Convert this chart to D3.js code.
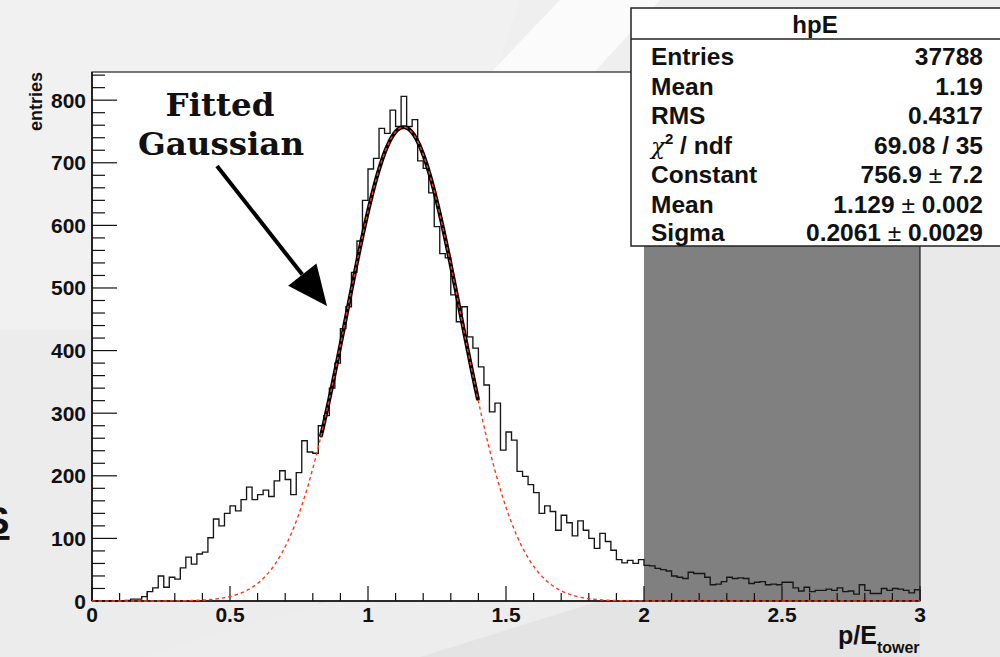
<!DOCTYPE html>
<html>
<head>
<meta charset="utf-8">
<script src="https://cdn.jsdelivr.net/npm/d3@7"></script>
<style>
  html, body { margin: 0; padding: 0; background: #e5e5e5; }
  svg { display: block; }
</style>
</head>
<body>
<svg id="chart" width="1000" height="657"></svg>
<script>
// ---- histogram hpE : p/E_tower, 150 bins of width 0.02 on [0, 3] ----
const histRange = [0, 3];
const binWidth = 0.02;
const counts = [
  0, 0, 0, 0, 0, 0, 1, 3, 3, 7,
  15, 21, 40, 22, 38, 35, 53, 70, 59, 75,
  78, 101, 131, 120, 140, 152, 144, 162, 182, 162,
  170, 177, 167, 192, 208, 194, 170, 205, 256, 238,
  236, 280, 296, 340, 380, 435, 470, 525, 575, 640,
  690, 707, 755, 747, 784, 758, 806, 758, 769, 703,
  691, 652, 598, 555, 548, 489, 446, 470, 422, 404,
  374, 345, 302, 316, 241, 270, 257, 207, 199, 186,
  173, 140, 152, 143, 113, 137, 125, 104, 128, 113,
  100, 84, 108, 95, 81, 66, 61, 65, 60, 66,
  57, 56, 52, 50, 48, 40, 38, 36, 46, 44,
  44, 38, 26, 27, 31, 38, 36, 37, 36, 28,
  30, 31, 26, 27, 26, 30, 30, 21, 16, 22,
  15, 17, 17, 19, 17, 21, 15, 16, 11, 26,
  17, 12, 12, 20, 17, 20, 19, 17, 13, 18
];

// Gaussian fit parameters and fit window
const fitConstant = 756.9;
const fitMean = 1.129;
const fitSigma = 0.2061;
const fitRange = [0.83, 1.40];

// shaded region of the x axis
const shadedRange = [2, 3];

// axis ticks
const xMajorTicks = [0, 0.5, 1, 1.5, 2, 2.5, 3];
const xTickLabels = ["0", "0.5", "1", "1.5", "2", "2.5", "3"];
const yMajorTicks = [0, 100, 200, 300, 400, 500, 600, 700, 800];
const yTickLabels = ["0", "100", "200", "300", "400", "500", "600", "700", "800"];
const yMax = 845;

// statistics box
const statTitle = "hpE";
const statNames = ["Entries", "Mean", "RMS", "chi2", "Constant", "Mean", "Sigma"];
const statValues = ["37788", "1.19", "0.4317", "69.08 / 35", ["756.9", "7.2"], ["1.129", "0.002"], ["0.2061", "0.0029"]];

// ---- layout ----
const svg = d3.select("#chart");
const W = 1000, H = 657;
const frame = { left: 92, right: 920, top: 72, bottom: 601 };
const SANS = "'Liberation Sans', Arial, Helvetica, sans-serif";

const x = d3.scaleLinear().domain(histRange).range([frame.left, frame.right]);
const y = d3.scaleLinear().domain([0, yMax]).range([frame.bottom, frame.top]);

// ---- slide background ----
const bg = svg.append("g");
bg.append("rect").attr("width", W).attr("height", H).attr("fill", "#e4e4e4");
bg.append("path").attr("fill", "#efefef")
  .attr("d", "M0,0 L1000,0 L1000,330 L0,330 Z");
bg.append("path").attr("fill", "#f3f3f3")
  .attr("d", "M0,0 L520,0 L300,657 L0,657 Z").attr("opacity", 0.55);
bg.append("path").attr("fill", "#fbfbfb")
  .attr("d", "M560,0 L660,0 L560,110 L455,110 Z");
bg.append("path").attr("fill", "#ededed")
  .attr("d", "M330,601 L600,601 L420,657 L140,657 Z");
bg.append("path").attr("fill", "#e9e9e9")
  .attr("d", "M920,246 L1000,246 L1000,657 L920,657 Z");

// ---- partial heading letter at the slide's left edge ----
svg.append("text")
  .attr("x", 9.5).attr("y", 534)
  .attr("text-anchor", "end")
  .attr("font-family", SANS).attr("font-weight", "bold")
  .attr("font-size", 39).attr("fill", "#111")
  .attr("text-decoration", "underline")
  .text("S");

// ---- plot frame ----
svg.append("rect")
  .attr("x", frame.left).attr("y", frame.top)
  .attr("width", frame.right - frame.left).attr("height", frame.bottom - frame.top)
  .attr("fill", "#ffffff");

svg.append("rect")
  .attr("x", x(shadedRange[0])).attr("y", frame.top)
  .attr("width", x(shadedRange[1]) - x(shadedRange[0]))
  .attr("height", frame.bottom - frame.top)
  .attr("fill", "#808080");

// ---- histogram outline ----
const stepPts = counts.map((c, i) => [histRange[0] + i * binWidth, c]);
stepPts.unshift([histRange[0], 0]);
stepPts.push([histRange[1], counts[counts.length - 1]]);
stepPts.push([histRange[1], 0]);

const stepLine = d3.line()
  .x(d => x(d[0])).y(d => y(d[1]))
  .curve(d3.curveStepAfter);

svg.append("path")
  .datum(stepPts)
  .attr("d", stepLine)
  .attr("fill", "none")
  .attr("stroke", "#161616")
  .attr("stroke-width", 1.35);

// ---- fitted Gaussian ----
const gauss = v => fitConstant * Math.exp(-0.5 * Math.pow((v - fitMean) / fitSigma, 2));
const curveLine = d3.line().x(d => x(d[0])).y(d => y(d[1]));

const fitPts = d3.range(fitRange[0], fitRange[1] + 1e-9, 0.004).map(v => [v, gauss(v)]);
svg.append("path")
  .datum(fitPts)
  .attr("d", curveLine)
  .attr("fill", "none")
  .attr("stroke", "#000")
  .attr("stroke-width", 4)
  .attr("stroke-linecap", "round");

// ---- axes ----
const axes = svg.append("g").attr("stroke", "#111").attr("stroke-width", 1.2);

// x ticks: major every 0.5, minor every 0.1
d3.range(0, 31).forEach(i => {
  const v = i / 10;
  const major = i % 5 === 0;
  axes.append("line")
    .attr("x1", x(v)).attr("x2", x(v))
    .attr("y1", frame.bottom).attr("y2", frame.bottom - (major ? 15 : 8));
});
// y ticks: major every 100, minor every 20
d3.range(0, Math.floor(yMax / 20) + 1).forEach(i => {
  const v = i * 20;
  const major = v % 100 === 0;
  axes.append("line")
    .attr("x1", frame.left).attr("x2", frame.left + (major ? 25 : 13))
    .attr("y1", y(v)).attr("y2", y(v));
});

// frame border
svg.append("rect")
  .attr("x", frame.left).attr("y", frame.top)
  .attr("width", frame.right - frame.left).attr("height", frame.bottom - frame.top)
  .attr("fill", "none").attr("stroke", "#222").attr("stroke-width", 1.2);
svg.append("line")
  .attr("x1", frame.left).attr("x2", frame.right)
  .attr("y1", frame.bottom).attr("y2", frame.bottom)
  .attr("stroke", "#111").attr("stroke-width", 1.6);
svg.append("line")
  .attr("x1", frame.left).attr("x2", frame.left)
  .attr("y1", frame.top).attr("y2", frame.bottom)
  .attr("stroke", "#111").attr("stroke-width", 1.6);

// tick labels
svg.append("g").selectAll("text").data(xMajorTicks).join("text")
  .attr("x", d => x(d)).attr("y", 622)
  .attr("text-anchor", "middle")
  .attr("font-family", SANS).attr("font-weight", "bold").attr("font-size", 21)
  .attr("fill", "#111")
  .text((d, i) => xTickLabels[i]);

svg.append("g").selectAll("text").data(yMajorTicks).join("text")
  .attr("x", 86).attr("y", d => y(d) + 7.5)
  .attr("text-anchor", "end")
  .attr("font-family", SANS).attr("font-weight", "bold").attr("font-size", 21)
  .attr("fill", "#111")
  .text((d, i) => yTickLabels[i]);

// axis titles
svg.append("text")
  .attr("transform", `translate(42, ${frame.top}) rotate(-90)`)
  .attr("text-anchor", "end")
  .attr("font-family", SANS).attr("font-weight", "bold").attr("font-size", 18)
  .attr("fill", "#111")
  .text("entries");

const xt = svg.append("text")
  .attr("x", 838).attr("y", 644)
  .attr("font-family", SANS).attr("font-weight", "bold")
  .attr("fill", "#111");
xt.append("tspan").attr("font-size", 25).text("p/E");
xt.append("tspan").attr("font-size", 16).attr("dy", 9).text("tower");

// ---- fit function drawn over the full range (dashed red) ----
const fullPts = d3.range(histRange[0], histRange[1] + 1e-9, 0.004).map(v => [v, gauss(v)]);
svg.append("path")
  .datum(fullPts)
  .attr("d", curveLine)
  .attr("fill", "none")
  .attr("stroke", "#ff3a1c")
  .attr("stroke-width", 1.4)
  .attr("stroke-dasharray", "3.5,3");

// ---- statistics box ----
const box = { x: 631, y: 8, w: 372, h: 238 };
const sb = svg.append("g");
sb.append("rect")
  .attr("x", box.x).attr("y", box.y).attr("width", box.w).attr("height", box.h)
  .attr("fill", "#fff").attr("stroke", "#222").attr("stroke-width", 1.5);
sb.append("line")
  .attr("x1", box.x).attr("x2", box.x + box.w)
  .attr("y1", 39).attr("y2", 39)
  .attr("stroke", "#222").attr("stroke-width", 1.3);
sb.append("text")
  .attr("x", 815).attr("y", 32.5).attr("text-anchor", "middle")
  .attr("font-family", SANS).attr("font-weight", "bold").attr("font-size", 24)
  .attr("fill", "#111")
  .text(statTitle);

const rowBase = [65, 94.5, 124, 153.5, 183, 212.5, 241];
statNames.forEach((name, i) => {
  const t = sb.append("text")
    .attr("x", 651).attr("y", rowBase[i])
    .attr("font-family", SANS).attr("font-weight", "bold").attr("font-size", 24.5)
    .attr("fill", "#111");
  if (name === "chi2") {
    t.append("tspan").attr("font-family", "'DejaVu Serif', serif").attr("font-style", "italic")
      .attr("font-weight", "normal").attr("font-size", 23).text("χ");
    t.append("tspan").attr("font-size", 15).attr("dy", -10).text("2");
    t.append("tspan").attr("dy", 10).text(" / ndf");
  } else {
    t.text(name);
  }
  const v = statValues[i];
  const vt = sb.append("text")
    .attr("x", 983).attr("y", rowBase[i]).attr("text-anchor", "end")
    .attr("font-family", SANS).attr("font-weight", "bold").attr("font-size", 24.5)
    .attr("fill", "#111");
  if (Array.isArray(v)) {
    vt.append("tspan").text(v[0] + " ");
    vt.append("tspan").attr("font-weight", "normal").text("±");
    vt.append("tspan").text(" " + v[1]);
  } else {
    vt.text(v);
  }
});

// ---- annotation: label and arrow pointing at the fitted curve ----
const ann = svg.append("g");
ann.append("text")
  .attr("x", 220).attr("y", 116).attr("text-anchor", "middle")
  .attr("font-family", "'DejaVu Serif', serif").attr("font-weight", "bold")
  .attr("font-size", 32.5).attr("fill", "#111")
  .text("Fitted");
ann.append("text")
  .attr("x", 221).attr("y", 155).attr("text-anchor", "middle")
  .attr("font-family", "'DejaVu Serif', serif").attr("font-weight", "bold")
  .attr("font-size", 32.5).attr("fill", "#111")
  .text("Gaussian");

const tail = [217, 166], tip = [327, 306];
const ang = Math.atan2(tip[1] - tail[1], tip[0] - tail[0]);
const headLen = 40, headHalf = 18;
const base = [tip[0] - headLen * Math.cos(ang), tip[1] - headLen * Math.sin(ang)];
ann.append("line")
  .attr("x1", tail[0]).attr("y1", tail[1])
  .attr("x2", base[0]).attr("y2", base[1])
  .attr("stroke", "#000").attr("stroke-width", 4);
ann.append("path")
  .attr("d", `M${tip[0]},${tip[1]}`
    + ` L${base[0] - headHalf * Math.sin(ang)},${base[1] + headHalf * Math.cos(ang)}`
    + ` L${base[0] + headHalf * Math.sin(ang)},${base[1] - headHalf * Math.cos(ang)} Z`)
  .attr("fill", "#000");
</script>
</body>
</html>
